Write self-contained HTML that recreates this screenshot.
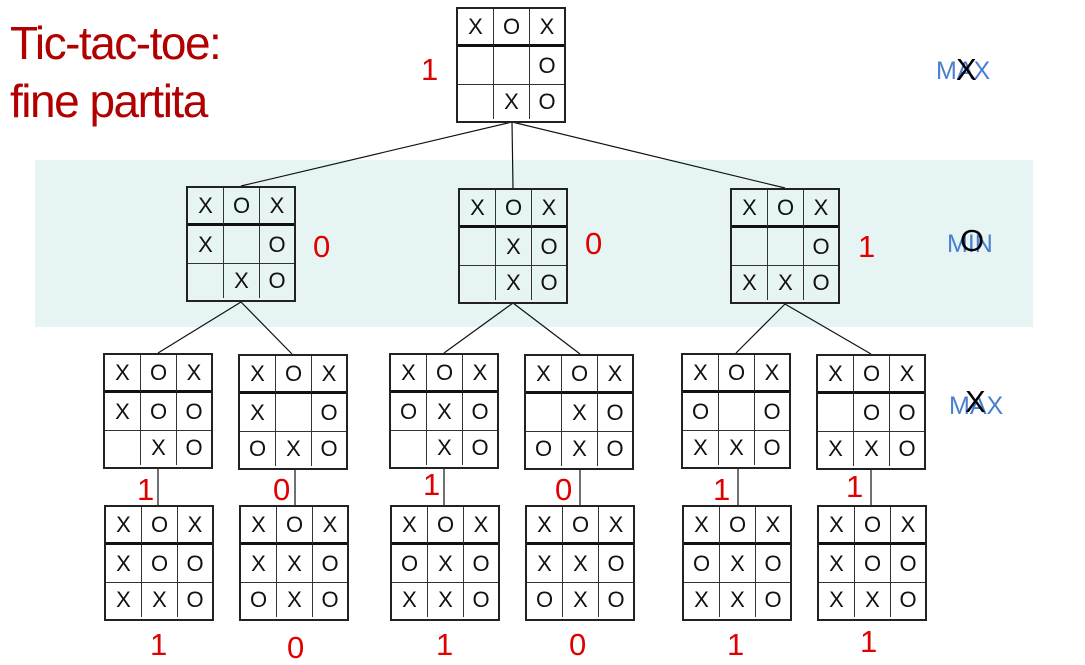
<!DOCTYPE html>
<html><head><meta charset="utf-8"><style>
body{margin:0;width:1085px;height:665px;background:#fff;position:relative;overflow:hidden;font-family:"Liberation Sans",sans-serif}
.band{position:absolute;left:35px;top:160px;width:998px;height:167px;background:#e6f4f3}
.b{position:absolute;width:110px;height:116px;box-sizing:border-box;border:2px solid #222;display:grid;grid-template-columns:36px 36px 34px;grid-template-rows:38px 38px 34px;background:transparent}
.b i{font-style:normal;font-size:22px;color:#111;display:flex;align-items:center;justify-content:center;border-right:1px solid #333;border-bottom:1px solid #333;box-sizing:border-box}
.b i:nth-child(3n){border-right:none}
.b i:nth-child(-n+3){border-bottom:3px solid #111}
.b i:nth-child(n+7){border-bottom:none}
.v{position:absolute;color:#e00000;font-size:31px;line-height:1}
.t{position:absolute;left:10px;color:#b00000;font-size:46px;line-height:1;letter-spacing:-1.5px}
.l{position:absolute;color:#4a7fd0;font-size:25px;line-height:1}
.o{position:absolute;color:#000;font-size:31px;line-height:1}
svg{position:absolute;left:0;top:0}
</style></head><body>
<div class="band"></div>
<svg width="1085" height="665"><g stroke="#111" stroke-width="1.2">
<line x1="512" y1="122" x2="241" y2="186"/><line x1="512" y1="122" x2="513" y2="188"/><line x1="512" y1="122" x2="785" y2="188"/>
<line x1="241" y1="302" x2="158" y2="353"/><line x1="241" y1="302" x2="292" y2="354"/>
<line x1="513" y1="303" x2="444" y2="353"/><line x1="513" y1="303" x2="580" y2="354"/>
<line x1="785" y1="304" x2="736" y2="353"/><line x1="785" y1="304" x2="871" y2="354"/>
<line x1="158" y1="468" x2="158" y2="505"/><line x1="295" y1="470" x2="295" y2="505"/>
<line x1="444" y1="468" x2="444" y2="505"/><line x1="580" y1="470" x2="580" y2="505"/>
<line x1="738" y1="468" x2="738" y2="505"/><line x1="871" y1="470" x2="871" y2="505"/>
</g></svg>
<div class="t" style="top:20px">Tic-tac-toe:</div>
<div class="t" style="top:78px">fine partita</div>
<div class="l" style="left:936px;top:59px">MAX</div><div class="o" style="left:956px;top:54px">X</div>
<div class="l" style="left:947px;top:232px">MIN</div><div class="o" style="left:960px;top:225px">O</div>
<div class="l" style="left:949px;top:394px">MAX</div><div class="o" style="left:965px;top:386px">X</div>

<div class="b" style="left:456px;top:7px"><i>X</i><i>O</i><i>X</i><i></i><i></i><i>O</i><i></i><i>X</i><i>O</i></div>
<div class="v" style="left:421px;top:54px">1</div>

<div class="b" style="left:186px;top:186px"><i>X</i><i>O</i><i>X</i><i>X</i><i></i><i>O</i><i></i><i>X</i><i>O</i></div>
<div class="b" style="left:458px;top:188px"><i>X</i><i>O</i><i>X</i><i></i><i>X</i><i>O</i><i></i><i>X</i><i>O</i></div>
<div class="b" style="left:730px;top:188px"><i>X</i><i>O</i><i>X</i><i></i><i></i><i>O</i><i>X</i><i>X</i><i>O</i></div>
<div class="v" style="left:313px;top:231px">0</div>
<div class="v" style="left:585px;top:228px">0</div>
<div class="v" style="left:858px;top:231px">1</div>

<div class="b" style="left:103px;top:353px"><i>X</i><i>O</i><i>X</i><i>X</i><i>O</i><i>O</i><i></i><i>X</i><i>O</i></div>
<div class="b" style="left:238px;top:354px"><i>X</i><i>O</i><i>X</i><i>X</i><i></i><i>O</i><i>O</i><i>X</i><i>O</i></div>
<div class="b" style="left:389px;top:353px"><i>X</i><i>O</i><i>X</i><i>O</i><i>X</i><i>O</i><i></i><i>X</i><i>O</i></div>
<div class="b" style="left:524px;top:354px"><i>X</i><i>O</i><i>X</i><i></i><i>X</i><i>O</i><i>O</i><i>X</i><i>O</i></div>
<div class="b" style="left:681px;top:353px"><i>X</i><i>O</i><i>X</i><i>O</i><i></i><i>O</i><i>X</i><i>X</i><i>O</i></div>
<div class="b" style="left:816px;top:354px"><i>X</i><i>O</i><i>X</i><i></i><i>O</i><i>O</i><i>X</i><i>X</i><i>O</i></div>
<div class="v" style="left:137px;top:474px">1</div>
<div class="v" style="left:273px;top:474px">0</div>
<div class="v" style="left:423px;top:469px">1</div>
<div class="v" style="left:555px;top:474px">0</div>
<div class="v" style="left:713px;top:474px">1</div>
<div class="v" style="left:846px;top:471px">1</div>

<div class="b" style="left:104px;top:505px"><i>X</i><i>O</i><i>X</i><i>X</i><i>O</i><i>O</i><i>X</i><i>X</i><i>O</i></div>
<div class="b" style="left:239px;top:505px"><i>X</i><i>O</i><i>X</i><i>X</i><i>X</i><i>O</i><i>O</i><i>X</i><i>O</i></div>
<div class="b" style="left:390px;top:505px"><i>X</i><i>O</i><i>X</i><i>O</i><i>X</i><i>O</i><i>X</i><i>X</i><i>O</i></div>
<div class="b" style="left:525px;top:505px"><i>X</i><i>O</i><i>X</i><i>X</i><i>X</i><i>O</i><i>O</i><i>X</i><i>O</i></div>
<div class="b" style="left:682px;top:505px"><i>X</i><i>O</i><i>X</i><i>O</i><i>X</i><i>O</i><i>X</i><i>X</i><i>O</i></div>
<div class="b" style="left:817px;top:505px"><i>X</i><i>O</i><i>X</i><i>X</i><i>O</i><i>O</i><i>X</i><i>X</i><i>O</i></div>
<div class="v" style="left:150px;top:629px">1</div>
<div class="v" style="left:287px;top:632px">0</div>
<div class="v" style="left:436px;top:629px">1</div>
<div class="v" style="left:569px;top:629px">0</div>
<div class="v" style="left:727px;top:629px">1</div>
<div class="v" style="left:860px;top:626px">1</div>
</body></html>
